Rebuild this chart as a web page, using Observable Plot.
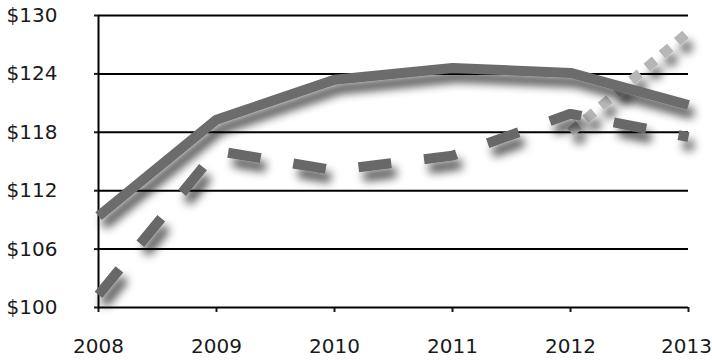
<!DOCTYPE html>
<html>
<head>
<meta charset="utf-8">
<script src="https://cdn.jsdelivr.net/npm/d3@7"></script>
<script src="https://cdn.jsdelivr.net/npm/@observablehq/plot@0.6"></script>
<style>
  html, body { margin: 0; padding: 0; background: #fff; }
  #chart { width: 712px; height: 360px; overflow: hidden; }
</style>
</head>
<body>
<div id="chart"></div>
<script>
// Years on the horizontal axis
const years = [2008, 2009, 2010, 2011, 2012, 2013];
// Solid series
const solidValues = [109.4, 119.3, 123.4, 124.6, 124.1, 120.8];
// Dashed series
const dashedValues = [101.3, 116.1, 114.1, 115.6, 119.9, 117.5];
// Light dotted series (only the last two years)
const dottedYears = [2012, 2013];
const dottedValues = [118.0, 128.3];
// Dollar tick values on the vertical axis
const yTicks = [100, 106, 112, 118, 124, 130];

const solid = years.map((year, i) => ({year, value: solidValues[i]}));
const dashed = years.map((year, i) => ({year, value: dashedValues[i]}));
const dotted = dottedYears.map((year, i) => ({year, value: dottedValues[i]}));

const chart = Plot.plot({
  width: 712,
  height: 360,
  marginLeft: 98,
  marginRight: 24,
  marginTop: 15,
  marginBottom: 53,
  style: {fontFamily: "DejaVu Sans", fontSize: "20px", color: "#1a1a1a", background: "#fff"},
  x: {domain: [2008, 2013], ticks: years, tickFormat: d => String(d), tickSize: 5, tickPadding: 26, label: null},
  y: {domain: [100, 130], ticks: yTicks, tickFormat: d => "$" + d, tickSize: 4, tickPadding: 37, label: null},
  marks: [
    Plot.ruleY(yTicks, {stroke: "#000", strokeWidth: 2}),
    Plot.ruleX([2008], {stroke: "#000", strokeWidth: 2}),
    Plot.line(dotted, {x: "year", y: "value", stroke: "#b6b6b6", strokeWidth: 10,
      strokeDasharray: "11,9", strokeLinecap: "butt"}),
    Plot.line(dashed, {x: "year", y: "value", stroke: "#686868", strokeWidth: 10,
      strokeDasharray: "33,33", strokeLinecap: "butt", strokeLinejoin: "miter"}),
    Plot.line(solid, {x: "year", y: "value", stroke: "#6c6c6c", strokeWidth: 10,
      strokeLinecap: "butt", strokeLinejoin: "miter"})
  ]
});

// Soft drop shadow filter for the three lines
const svg = d3.select(chart);
const filter = svg.insert("defs", ":first-child")
  .append("filter")
  .attr("id", "line-shadow")
  .attr("x", "-10%").attr("y", "-15%")
  .attr("width", "130%").attr("height", "150%");
filter.append("feGaussianBlur").attr("in", "SourceAlpha").attr("stdDeviation", 5).attr("result", "blur");
filter.append("feOffset").attr("in", "blur").attr("dx", 5).attr("dy", 9).attr("result", "offset");
filter.append("feComponentTransfer").attr("in", "offset").attr("result", "shade")
  .append("feFuncA").attr("type", "linear").attr("slope", 0.7);
const merge = filter.append("feMerge");
merge.append("feMergeNode").attr("in", "shade");
merge.append("feMergeNode").attr("in", "SourceGraphic");

svg.selectAll('g[aria-label="line"]').attr("filter", "url(#line-shadow)");
svg.selectAll('g[aria-label="x-axis tick"] path, g[aria-label="y-axis tick"] path')
  .attr("stroke-width", 2);
// Nudge the last year label so it stays inside the frame
const xLabels = svg.selectAll('g[aria-label="x-axis tick label"] text');
xLabels.filter((d, i, nodes) => i === nodes.length - 1).attr("dx", -2);

document.getElementById("chart").appendChild(chart);
</script>
</body>
</html>
